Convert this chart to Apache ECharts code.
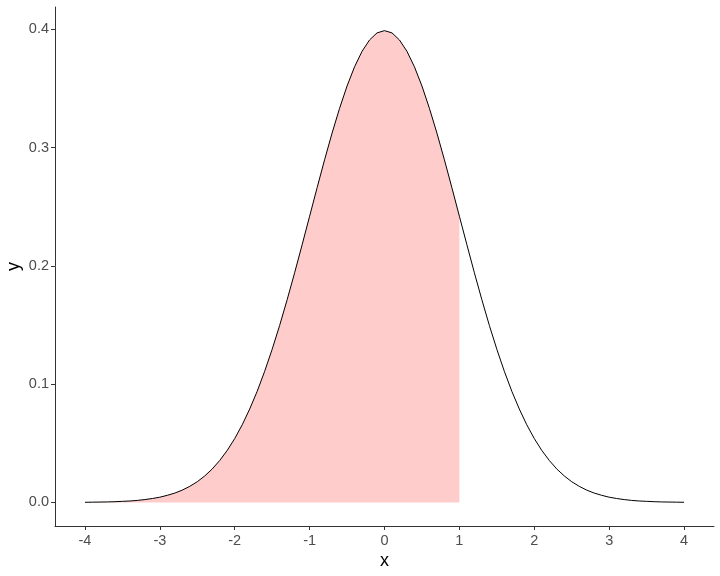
<!DOCTYPE html>
<html><head><meta charset="utf-8">
<script src="https://cdn.jsdelivr.net/npm/echarts@6/dist/echarts.min.js"></script>
<style>html,body{margin:0;padding:0;background:#fff}#c{width:720px;height:576px}</style>
</head><body><div id="c"></div>
<script>
const xValues = [-4.0,-3.9,-3.8,-3.7,-3.6,-3.5,-3.4,-3.3,-3.2,-3.1,-3.0,-2.9,-2.8,-2.7,-2.6,-2.5,-2.4,-2.3,-2.2,-2.1,-2.0,-1.9,-1.8,-1.7,-1.6,-1.5,-1.4,-1.3,-1.2,-1.1,-1.0,-0.9,-0.8,-0.7,-0.6,-0.5,-0.4,-0.3,-0.2,-0.1,0.0,0.1,0.2,0.3,0.4,0.5,0.6,0.7,0.8,0.9,1.0,1.1,1.2,1.3,1.4,1.5,1.6,1.7,1.8,1.9,2.0,2.1,2.2,2.3,2.4,2.5,2.6,2.7,2.8,2.9,3.0,3.1,3.2,3.3,3.4,3.5,3.6,3.7,3.8,3.9,4.0];
const yValues = [0.0001,0.0002,0.0003,0.0004,0.0006,0.0009,0.0012,0.0017,0.0024,0.0033,0.0044,0.0060,0.0079,0.0104,0.0136,0.0175,0.0224,0.0283,0.0355,0.0440,0.0540,0.0656,0.0790,0.0940,0.1109,0.1295,0.1497,0.1714,0.1942,0.2179,0.2420,0.2661,0.2897,0.3123,0.3332,0.3521,0.3683,0.3814,0.3910,0.3970,0.3989,0.3970,0.3910,0.3814,0.3683,0.3521,0.3332,0.3123,0.2897,0.2661,0.2420,0.2179,0.1942,0.1714,0.1497,0.1295,0.1109,0.0940,0.0790,0.0656,0.0540,0.0440,0.0355,0.0283,0.0224,0.0175,0.0136,0.0104,0.0079,0.0060,0.0044,0.0033,0.0024,0.0017,0.0012,0.0009,0.0006,0.0004,0.0003,0.0002,0.0001];
const shadeUpper = 1.0;
const xTicks = [-4,-3,-2,-1,0,1,2,3,4];
const yTicks = [0,0.1,0.2,0.3,0.4];

const curve = xValues.map((x,i)=>[x,yValues[i]]);
const shade = curve.filter(p=>p[0] <= shadeUpper + 1e-9);

const chart = echarts.init(document.getElementById('c'), null, {renderer:'canvas'});
const axisCommon = {
  axisLine:{show:true,onZero:false,lineStyle:{color:'#333',width:1}},
  axisTick:{show:true,length:4,lineStyle:{color:'#333',width:1}},
  splitLine:{show:false},
  nameLocation:'middle',
  nameMoveOverlap:false,
  nameTextStyle:{color:'#000',fontSize:18,fontFamily:'Liberation Sans'}
};
chart.setOption({
  animation:false,
  grid:{left:55,right:6,top:7,bottom:50,containLabel:false,outerBoundsMode:'none'},
  xAxis:Object.assign({},axisCommon,{
    type:'value',min:-4.4,max:4.4,name:'x',nameGap:26,
    axisTick:Object.assign({},axisCommon.axisTick,{customValues:xTicks}),
    axisLabel:{customValues:xTicks,color:'#4d4d4d',fontSize:14.5,fontFamily:'Liberation Sans',margin:7}
  }),
  yAxis:Object.assign({},axisCommon,{
    type:'value',min:-0.01995,max:0.4189,name:'y',nameGap:32,
    axisTick:Object.assign({},axisCommon.axisTick,{customValues:yTicks}),
    axisLabel:{customValues:yTicks,color:'#4d4d4d',fontSize:14.5,fontFamily:'Liberation Sans',margin:6,
      formatter:v=>v.toFixed(1)}
  }),
  series:[
    {type:'line',data:shade,symbol:'none',smooth:false,lineStyle:{width:0},
     areaStyle:{color:'#ffcccc',opacity:1,origin:0},z:1},
    {type:'line',data:curve,symbol:'none',smooth:false,lineStyle:{color:'#000',width:1},z:2}
  ]
});
</script></body></html>
